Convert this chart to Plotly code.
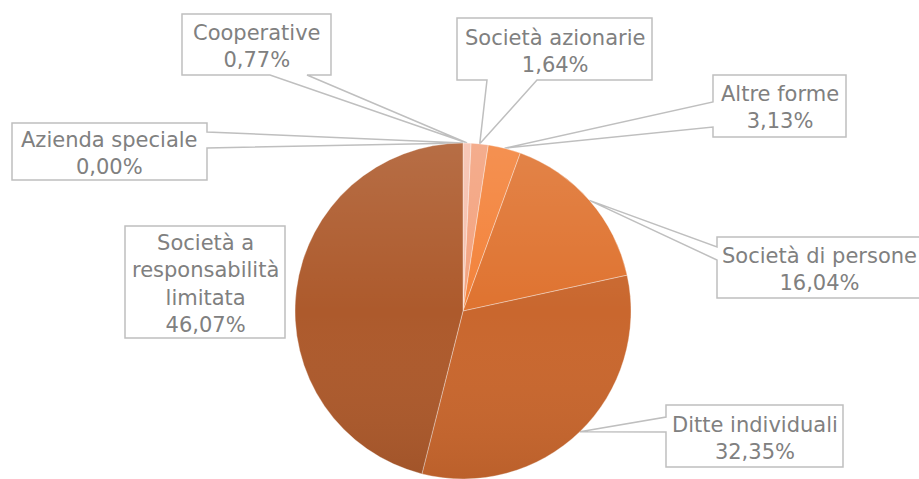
import base64
import math
import plotly.graph_objects as go

# Legal forms of the registered businesses (share of total, %)
categories = [
    "Azienda speciale",
    "Cooperative",
    "Società azionarie",
    "Altre forme",
    "Società di persone",
    "Ditte individuali",
    "Società a responsabilità limitata",
]
shares = [0.00, 0.77, 1.64, 3.13, 16.04, 32.35, 46.07]
label_text = [
    "Azienda speciale",
    "Cooperative",
    "Società azionarie",
    "Altre forme",
    "Società di persone",
    "Ditte individuali",
    "Società a<br>responsabilità<br>limitata",
]
slice_colors = ["#f9d3c4", "#f6c0ad", "#f3a27e", "#f3823a",
                "#df7330", "#c9672e", "#ad5a2c"]

W, H = 919, 479
CX, CY, R = 463, 311, 168

# Callout boxes in pixels: (x0, y0, x1, y1), side of the pointer, pointer base
callouts = [
    ((12, 123, 207, 180), "right", (132, 148)),
    ((182, 14, 331, 75), "bottom", (270, 307)),
    ((457, 18, 652, 80), "bottom", (487, 537)),
    ((713, 75, 846, 137), "left", (102, 127)),
    ((717, 237, 921, 298), "left", (247, 260)),
    ((666, 405, 843, 467), "left", (417, 432)),
    ((125, 226, 285, 338), None, None),
]


def px(x):
    return x / W


def py(y):
    return 1 - y / H


def slice_tip(i):
    """Point on the rim at the middle angle of slice i (clockwise from 12 o'clock)."""
    total = sum(shares)
    start = sum(shares[:i]) / total
    mid = (start + shares[i] / total / 2) * 2 * math.pi
    return CX + R * math.sin(mid), CY - R * math.cos(mid)


def callout_path(box, side, base, tip):
    x0, y0, x1, y1 = box
    pts = [(x0, y0), (x1, y0)]
    if side == "right":
        pts += [(x1, base[0]), tip, (x1, base[1])]
    pts += [(x1, y1)]
    if side == "bottom":
        pts += [(base[1], y1), tip, (base[0], y1)]
    pts += [(x0, y1)]
    if side == "left":
        pts += [(x0, base[1]), tip, (x0, base[0])]
    return "M " + " L ".join(f"{px(a):.5f},{py(b):.5f}" for a, b in pts) + " Z"


fig = go.Figure(
    go.Pie(
        labels=categories,
        values=shares,
        sort=False,
        direction="clockwise",
        rotation=0,
        textinfo="none",
        hoverinfo="label+percent",
        marker=dict(colors=slice_colors,
                    line=dict(color="rgba(255,255,255,0.35)", width=1)),
        domain=dict(x=[px(CX - R), px(CX + R)], y=[py(CY + R), py(CY - R)]),
        showlegend=False,
    )
)

shapes = []
annotations = []
for i, (box, side, base) in enumerate(callouts):
    tip = slice_tip(i)
    shapes.append(dict(
        type="path", xref="paper", yref="paper", layer="below",
        path=callout_path(box, side, base, tip),
        line=dict(color="#bfbfbf", width=1.5), fillcolor="white",
    ))
    x0, y0, x1, y1 = box
    value = f"{shares[i]:.2f}%".replace(".", ",")
    annotations.append(dict(
        x=px((x0 + x1) / 2), y=py((y0 + y1) / 2 + 2), xref="paper", yref="paper",
        text=f"{label_text[i]}<br>{value}", showarrow=False,
        xanchor="center", yanchor="middle", align="center",
        font=dict(family="DejaVu Sans", size=21, color="#808080"),
    ))

# Soft top-to-bottom shading over the disc
svg = (
    '<svg xmlns="http://www.w3.org/2000/svg" width="336" height="336">'
    '<defs><linearGradient id="g" x1="0" y1="0" x2="0" y2="1">'
    '<stop offset="0" stop-color="#ffffff" stop-opacity="0.12"/>'
    '<stop offset="0.5" stop-color="#ffffff" stop-opacity="0"/>'
    '<stop offset="1" stop-color="#000000" stop-opacity="0.07"/>'
    '</linearGradient></defs>'
    '<circle cx="168" cy="168" r="168" fill="url(#g)"/></svg>'
)
shade = "data:image/svg+xml;base64," + base64.b64encode(svg.encode()).decode()

fig.update_layout(
    width=W, height=H,
    margin=dict(l=0, r=0, t=0, b=0),
    paper_bgcolor="white",
    plot_bgcolor="white",
    shapes=shapes,
    annotations=annotations,
    images=[dict(source=shade, xref="paper", yref="paper",
                 x=px(CX - R), y=py(CY - R), sizex=2 * R / W, sizey=2 * R / H,
                 xanchor="left", yanchor="top", sizing="stretch", layer="above")],
)

fig.write_html("out.html")
